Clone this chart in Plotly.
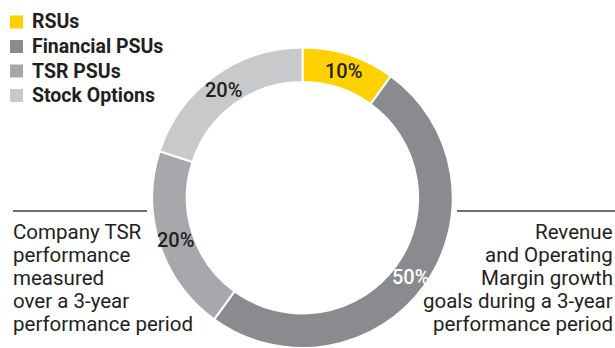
import math
import plotly.graph_objects as go

# Long-term incentive mix
award_types = ["RSUs", "Financial PSUs", "TSR PSUs", "Stock Options"]
award_shares = [10, 50, 20, 20]
slice_colors = ["#FFD100", "#8A8B8E", "#A7A8AB", "#C8C9CB"]
label_colors = ["#231F20", "#FFFFFF", "#231F20", "#231F20"]

tsr_note = ["Company TSR", "performance", "measured", "over a 3-year", "performance period"]
financial_note = ["Revenue", "and Operating", "Margin growth", "goals during a 3-year", "performance period"]

W, H = 615, 348
FONT = "Roboto"
INK = "#231F20"
RULE = "#6E6F72"

# ring geometry (pixels from the top-left corner)
CX, CY = 302.5, 198.5
R_OUT = 151.0
HOLE = 0.77


def px_x(x):
    return x / W


def px_y(y):
    return 1 - y / H


fig = go.Figure(
    go.Pie(
        labels=award_types,
        values=award_shares,
        sort=False,
        direction="clockwise",
        rotation=0,
        hole=HOLE,
        marker=dict(colors=slice_colors, line=dict(color="#FFFFFF", width=2)),
        textinfo="none",
        hoverinfo="label+percent",
        showlegend=False,
        domain=dict(x=[px_x(CX - R_OUT), px_x(CX + R_OUT)],
                    y=[0.0, px_y(CY - R_OUT)]),
    )
)

# percentage labels at the middle of each ring segment
total = sum(award_shares)
r_mid = R_OUT * (1 + HOLE) / 2
start = 0.0
for name, share, tcol in zip(award_types, award_shares, label_colors):
    mid = (start + share / 2) / total * 2 * math.pi
    start += share
    lx = CX + r_mid * math.sin(mid)
    ly = CY - r_mid * math.cos(mid)
    fig.add_annotation(
        xref="paper", yref="paper", x=px_x(lx), y=px_y(ly),
        xanchor="center", yanchor="middle", showarrow=False,
        text=f"{share / total:.0%}",
        font=dict(family=FONT, size=20, color=tcol, weight=500),
    )

# legend: colour chips with bold labels
legend_top, legend_step = 22.0, 24.5
for i, (name, col) in enumerate(zip(award_types, slice_colors)):
    yc = legend_top + i * legend_step
    fig.add_shape(type="rect", xref="paper", yref="paper",
                  x0=px_x(10), x1=px_x(23), y0=px_y(yc - 6.5), y1=px_y(yc + 6.5),
                  fillcolor=col, line=dict(width=0))
    fig.add_annotation(
        xref="paper", yref="paper", x=px_x(31), y=px_y(yc),
        xanchor="left", yanchor="middle", showarrow=False, borderpad=0,
        text=name,
        font=dict(family=FONT, size=19.5, color=INK, weight="bold"),
    )

# leader rules on either side of the ring
rule_y = px_y(211)
fig.add_shape(type="line", xref="paper", yref="paper",
              x0=px_x(13), x1=px_x(147), y0=rule_y, y1=rule_y,
              line=dict(color=RULE, width=2))
fig.add_shape(type="line", xref="paper", yref="paper",
              x0=px_x(457), x1=1.0, y0=rule_y, y1=rule_y,
              line=dict(color=RULE, width=2))

# explanatory notes, one line each
note_top, note_step = 232.0, 23.0
for i, line in enumerate(tsr_note):
    fig.add_annotation(
        xref="paper", yref="paper", x=px_x(12), y=px_y(note_top + i * note_step),
        xanchor="left", yanchor="middle", showarrow=False, borderpad=0,
        text=line, font=dict(family=FONT, size=20.5, color=INK),
    )
for i, line in enumerate(financial_note):
    fig.add_annotation(
        xref="paper", yref="paper", x=px_x(614), y=px_y(note_top + i * note_step),
        xanchor="right", yanchor="middle", showarrow=False, borderpad=0,
        text=line, font=dict(family=FONT, size=20.5, color=INK),
    )

fig.update_layout(
    width=W, height=H,
    margin=dict(l=0, r=0, t=0, b=0),
    paper_bgcolor="#FFFFFF",
    plot_bgcolor="#FFFFFF",
    showlegend=False,
)

fig.write_html("out.html")
